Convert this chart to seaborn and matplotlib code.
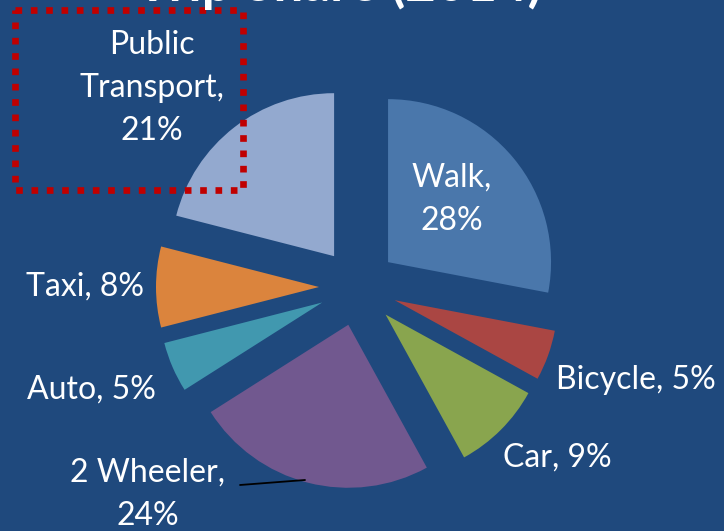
import matplotlib
matplotlib.use("Agg")
import matplotlib.pyplot as plt
import seaborn as sns

categories = ["Walk", "Bicycle", "Car", "2 Wheeler", "Auto", "Taxi", "Public Transport"]
shares = [28, 5, 9, 24, 5, 8, 21]
slice_colors = ["#4A77AB", "#AA4643", "#89A54E", "#71588F", "#4198AF", "#DB843D", "#93A9CF"]
label_texts = ["Walk,\n28%", "Bicycle, 5%", "Car, 9%", "2 Wheeler,\n24%", "Auto, 5%", "Taxi, 8%",
               "Public\nTransport,\n21%"]
label_pos = [(452, 332), (636, 151), (557, 73), (148, 37), (91, 141), (85, 244), (152, 443)]
title_text = "Trip Share (2014)"

sns.set_style("white")
plt.rcParams['font.family'] = ['Lato', 'DejaVu Sans']

W, H = 724, 531
bg = "#1F497D"
fig = plt.figure(figsize=(W / 100, H / 100), dpi=100, facecolor=bg)
ax = fig.add_axes([0, 0, 1, 1])
ax.set_facecolor(bg)

palette = sns.color_palette(slice_colors)
ax.pie(shares, colors=palette, startangle=90, counterclock=False,
       center=(358, 244), radius=163, explode=[39] * len(shares),
       wedgeprops=dict(linewidth=0))
ax.set_xlim(0, W)
ax.set_ylim(0, H)
ax.set_aspect('equal')
ax.axis('off')

for txt, (x, y) in zip(label_texts, label_pos):
    ax.text(x, y, txt, color="white", fontsize=23, ha="center", va="center",
            linespacing=1.55)

# leader line for 2 Wheeler
ax.plot([240, 305], [46, 51], color="black", linewidth=1.3)

# title (partially cut at top, as in the reference)
ax.text(340, 521, title_text, color="white", fontsize=38, ha="center", va="bottom",
        fontweight="bold")

# red dotted box around Public Transport label
ax.plot([15, 243, 243, 15, 15], [521, 521, 341, 341, 521], color="#C00000",
        linewidth=4.8, linestyle=(0, (1, 1.3)), solid_capstyle="butt",
        dash_capstyle="butt")

fig.savefig("out.png", dpi=100, facecolor=bg)
